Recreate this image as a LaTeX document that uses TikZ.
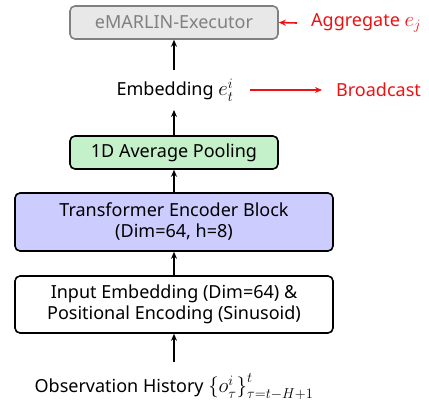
\documentclass[tikz,border=0pt]{standalone}
\usepackage{fontspec}
\setmainfont{Noto Sans}
\usetikzlibrary{arrows.meta}
\definecolor{boxgray}{HTML}{E8E8E8}
\definecolor{linegray}{HTML}{808080}
\definecolor{poolgreen}{HTML}{C4F0CA}
\definecolor{encblue}{HTML}{CCCCFF}
\definecolor{redc}{HTML}{EE1111}
\newcommand{\bigmath}[1]{{\fontsize{21}{24}\selectfont$#1$}}
\begin{document}
\begin{tikzpicture}[x=1pt,y=-1pt,
  blk/.style={draw=black,line width=1.6pt,rounded corners=5pt,align=center,inner sep=0pt,font=\fontsize{18}{21}\selectfont},
  lbl/.style={font=\fontsize{18}{21}\selectfont,inner sep=0pt},
  arr/.style={-{Stealth[length=7pt,width=6pt]},line width=1.6pt},
  rarr/.style={-{Stealth[length=7pt,width=6pt]},line width=1.6pt,draw=redc}]
\useasboundingbox (0,0) rectangle (429,407);
\node[blk,draw=linegray,fill=boxgray,text=linegray,minimum width=208pt,minimum height=33pt] (exec) at (174,22.5) {eMARLIN-Executor};
\node[lbl,text=redc,anchor=west] (agg) at (311,23) {Aggregate \bigmath{e_j}};
\node[lbl] (emb) at (175,90) {Embedding \bigmath{e_t^i}};
\node[lbl,text=redc,anchor=west] (bc) at (336,90) {Broadcast};
\node[blk,fill=poolgreen,minimum width=208pt,minimum height=33pt] (pool) at (174,152.5) {1D Average Pooling};
\node[blk,fill=encblue,minimum width=318pt,minimum height=58pt] (enc) at (174,222) {Transformer Encoder Block\\(Dim=64, h=8)};
\node[blk,fill=white,minimum width=318pt,minimum height=57pt] (inp) at (174,304.5) {Input Embedding (Dim=64) \&\\Positional Encoding (Sinusoid)};
\node[lbl] (obs) at (174,387) {Observation History \bigmath{\bigl\{o_\tau^i\bigr\}_{\tau=t-H+1}^{t}}};
\coordinate (aggs) at (297,23);
\coordinate (embt) at (174,70);
\coordinate (embb) at (174,110);
\coordinate (obst) at (174,362);
\coordinate (bcs) at (250,90);
\coordinate (bce) at (322,90);
\draw[rarr] (aggs) -- (exec.east);
\draw[rarr] (bcs) -- (bce);
\draw[arr] (embt) -- (exec.south);
\draw[arr] (pool.north) -- (embb);
\draw[arr] (enc.north) -- (pool.south);
\draw[arr] (inp.north) -- (enc.south);
\draw[arr] (obst) -- (inp.south);
\end{tikzpicture}
\end{document}
